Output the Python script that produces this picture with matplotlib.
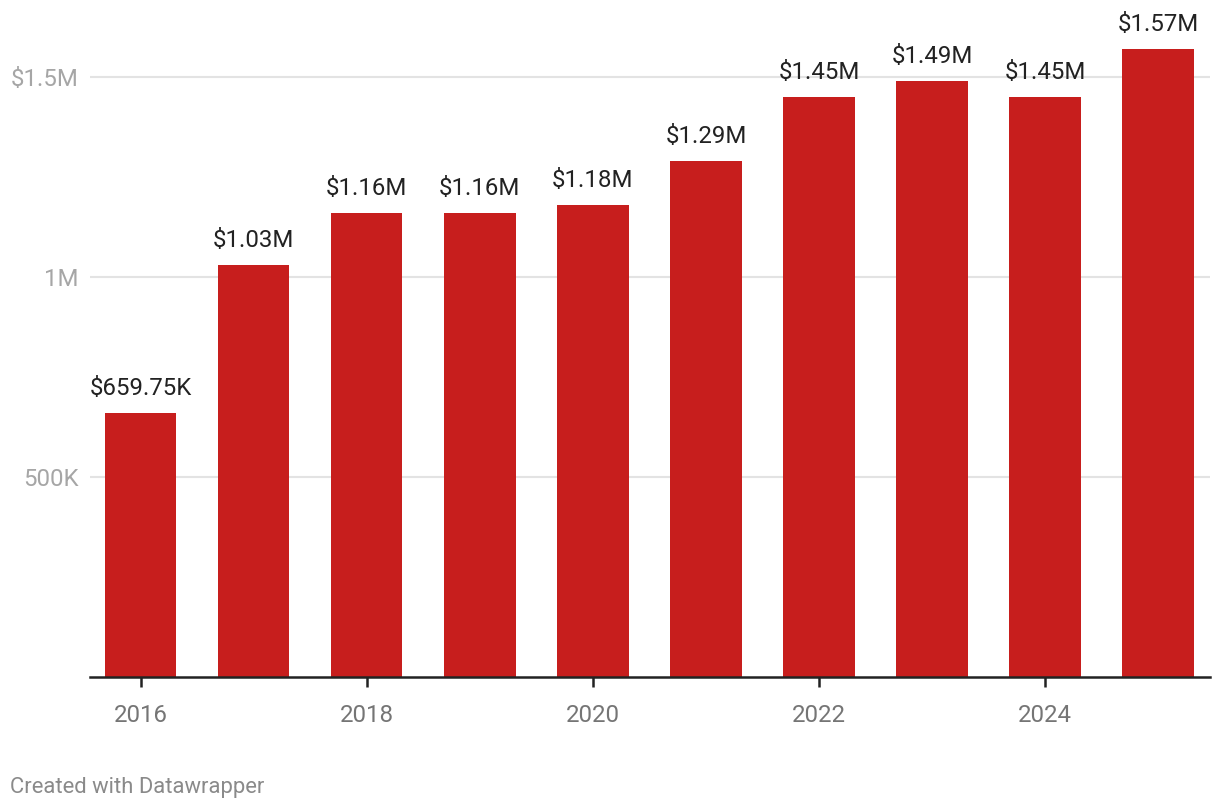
import numpy as np
import matplotlib.pyplot as plt

plt.rcParams['font.family'] = ['Roboto', 'DejaVu Sans']

years = [2016, 2017, 2018, 2019, 2020, 2021, 2022, 2023, 2024, 2025]
values = [659750, 1030000, 1160000, 1160000, 1180000, 1290000, 1450000, 1490000, 1450000, 1570000]
labels = ['$659.75K', '$1.03M', '$1.16M', '$1.16M', '$1.18M', '$1.29M',
          '$1.45M', '$1.49M', '$1.45M', '$1.57M']
ytick_vals = [500000, 1000000, 1500000]
ytick_labels = ['500K', '1M', '$1.5M']
xtick_vals = [2016, 2018, 2020, 2022, 2024]

W, H = 1220, 810
fig = plt.figure(figsize=(W / 100, H / 100), dpi=100)
# axes in pixel coords: left 90, right 1210, bottom 677, top 20
ax = fig.add_axes([90 / W, (H - 677) / H, 1120 / W, 657 / H])

ax.bar(years, values, width=0.63, color='#c71e1d', zorder=3)

for x, v, t in zip(years, values, labels):
    ax.annotate(t, (x, v), xytext=(0, 13), textcoords='offset pixels',
                ha='center', va='bottom', fontsize=17.3, color='#222222')

ax.set_xlim(2015.55, 2025.46)
ax.set_ylim(0, 1642500)

ax.set_yticks(ytick_vals)
ax.set_yticklabels(ytick_labels)
ax.set_xticks(xtick_vals)
ax.set_xticklabels([str(y) for y in xtick_vals])

ax.grid(axis='y', color='#e3e3e3', linewidth=1.5, zorder=0)
for s in ['top', 'right', 'left']:
    ax.spines[s].set_visible(False)
ax.spines['bottom'].set_linewidth(1.8)
ax.spines['bottom'].set_color('#222222')
ax.spines['bottom'].set_zorder(4)

ax.tick_params(axis='y', length=0, pad=8, labelsize=17.3, labelcolor='#a6a6a6')
ax.tick_params(axis='x', length=7, width=1.8, color='#222222', pad=12.5,
               labelsize=17.3, labelcolor='#757575')

fig.text(10 / W, 1 - 787 / H, 'Created with Datawrapper', fontsize=15.8,
         color='#8a8a8a', ha='left', va='center')

fig.savefig('out.png', dpi=100)
